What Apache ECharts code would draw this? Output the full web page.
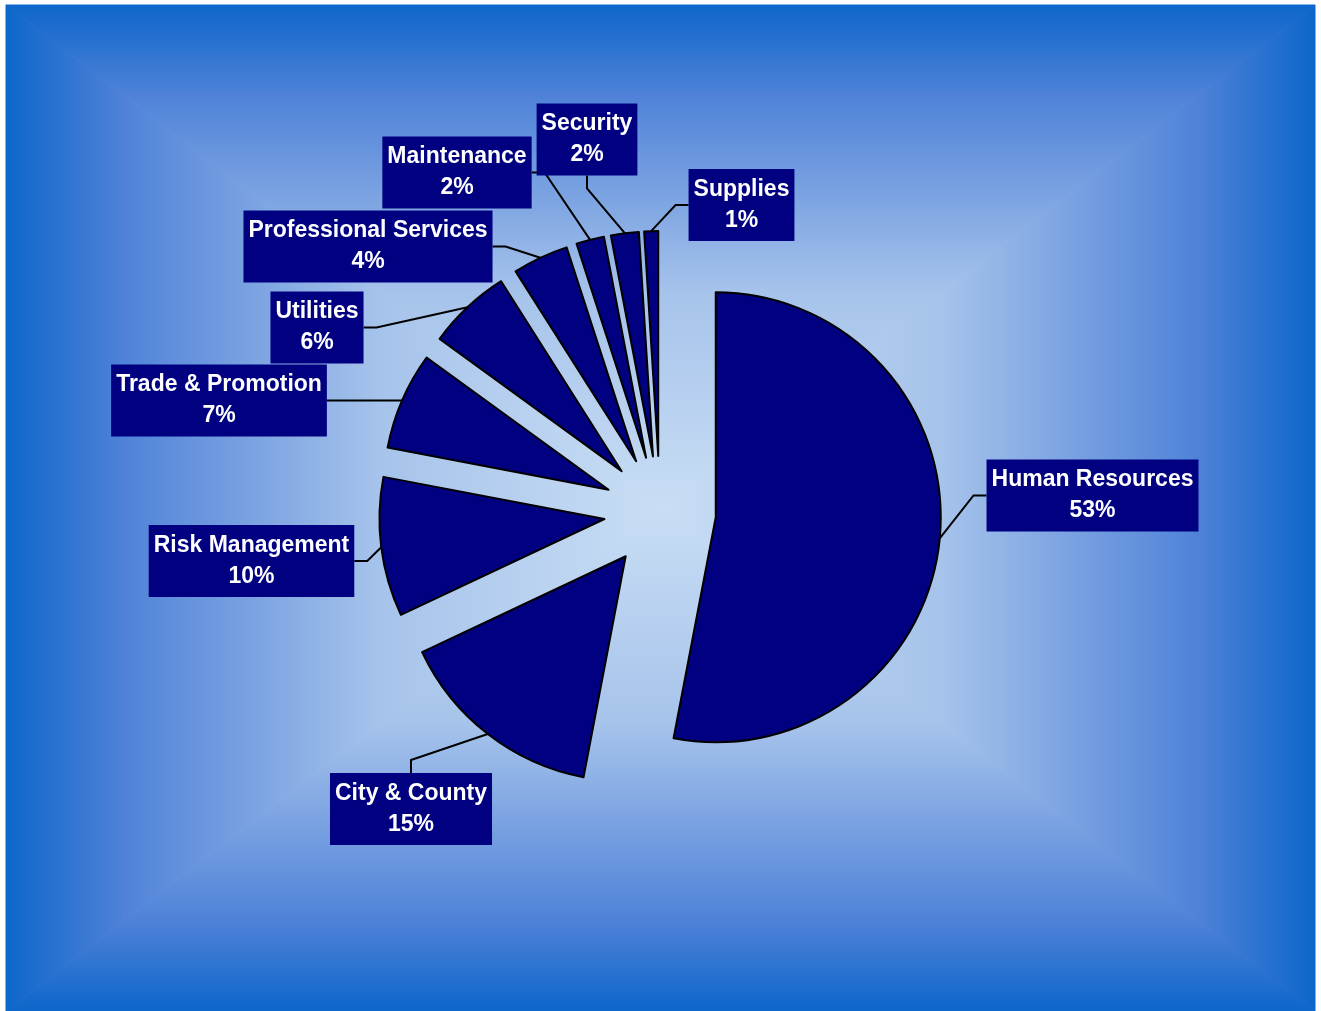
<!DOCTYPE html>
<html>
<head>
<meta charset="utf-8">
<title>Expense breakdown</title>
<script src="https://cdn.jsdelivr.net/npm/echarts@6/dist/echarts.min.js"></script>
<style>
  html, body { margin: 0; padding: 0; background: #ffffff; }
  #chart { width: 1321px; height: 1011px; }
</style>
</head>
<body>
<div id="chart"></div>
<script>
// Categories and their percentage shares, clockwise from 12 o'clock
const categories = [
  'Human Resources', 'City & County', 'Risk Management', 'Trade & Promotion',
  'Utilities', 'Professional Services', 'Maintenance', 'Security', 'Supplies'
];
const shares = [53, 15, 10, 7, 6, 4, 2, 2, 1];

// Where each label box sits (centre) and which edge its leader line enters
const labelPlacement = {
  'Human Resources':       { x: 1092.5, y: 495.5, side: 'left' },
  'City & County':         { x: 411,    y: 809,   side: 'top' },
  'Risk Management':       { x: 251.5,  y: 561,   side: 'right' },
  'Trade & Promotion':     { x: 219,    y: 400.5, side: 'right' },
  'Utilities':             { x: 317,    y: 327.5, side: 'right' },
  'Professional Services': { x: 368,    y: 246.5, side: 'right' },
  'Maintenance':           { x: 457,    y: 172.5, side: 'right' },
  'Security':              { x: 587,    y: 139.5, side: 'bottom' },
  'Supplies':              { x: 741.5,  y: 205,   side: 'left' }
};

const pieCenter = [660, 512];
const pieRadius = 225;
const explode = 56;
const elbowGap = 13;

const NAVY = '#000080';

// Rectangular "from centre" backdrop: four triangles, each shading from its edge to the middle
const frame = { left: 6, top: 5, right: 1315, bottom: 1011 };
const mid = [(frame.left + frame.right) / 2, (frame.top + frame.bottom) / 2];
const shadeStops = [
  { offset: 0,    color: '#0d66ca' },
  { offset: 0.18, color: '#4f82d8' },
  { offset: 0.57, color: '#a6c3eb' },
  { offset: 1,    color: '#c9def4' }
];
function shade(x, y, x2, y2) {
  return { type: 'linear', x: x, y: y, x2: x2, y2: y2, colorStops: shadeStops, global: false };
}
function tri(points, grad) {
  return {
    type: 'polygon', silent: true, z: -10,
    shape: { points: points },
    style: { fill: grad, stroke: grad, lineWidth: 1 }
  };
}
const backdrop = [
  tri([[frame.left, frame.top], [frame.right, frame.top], mid], shade(0, 0, 0, 1)),
  tri([[frame.left, frame.bottom], [frame.right, frame.bottom], mid], shade(0, 1, 0, 0)),
  tri([[frame.left, frame.top], [frame.left, frame.bottom], mid], shade(0, 0, 1, 0)),
  tri([[frame.right, frame.top], [frame.right, frame.bottom], mid], shade(1, 0, 0, 0))
];

// Exploded slices: every slice is "selected" and pushed out by `explode`
const sliceData = categories.map((name, i) => ({ name: name, value: shares[i], selected: true }));
// Same values again for the label layer (an invisible, unexploded pie)
const labelData = categories.map((name, i) => ({ name: name, value: shares[i] }));

function placeLabel(params) {
  const place = labelPlacement[categories[params.dataIndex]];
  const w = params.labelRect.width;
  const h = params.labelRect.height;
  let attach, elbow;
  if (place.side === 'left') {
    attach = [place.x - w / 2, place.y];
    elbow = [attach[0] - elbowGap, place.y];
  } else if (place.side === 'right') {
    attach = [place.x + w / 2, place.y];
    elbow = [attach[0] + elbowGap, place.y];
  } else if (place.side === 'top') {
    attach = [place.x, place.y - h / 2];
    elbow = [place.x, attach[1] - elbowGap];
  } else {
    attach = [place.x, place.y + h / 2];
    elbow = [place.x, attach[1] + elbowGap];
  }
  // leader starts on the slice's arc at mid-angle, moved out with the exploded slice
  const p0 = params.labelLinePoints[0];
  const vx = p0[0] - pieCenter[0];
  const vy = p0[1] - pieCenter[1];
  const len = Math.sqrt(vx * vx + vy * vy) || 1;
  const start = [p0[0] + vx / len * explode, p0[1] + vy / len * explode];
  return {
    x: place.x,
    y: place.y,
    align: 'center',
    verticalAlign: 'middle',
    labelLinePoints: [start, elbow, attach]
  };
}

const chart = echarts.init(document.getElementById('chart'), null, { renderer: 'canvas' });

chart.setOption({
  animation: false,
  backgroundColor: 'transparent',
  graphic: { elements: backdrop },
  series: [
    {
      type: 'pie',
      z: 2,
      center: pieCenter,
      radius: pieRadius,
      startAngle: 90,
      clockwise: true,
      selectedMode: 'multiple',
      selectedOffset: explode,
      data: sliceData,
      itemStyle: { color: NAVY, borderColor: '#000000', borderWidth: 2 },
      select: { itemStyle: { color: NAVY, borderColor: '#000000', borderWidth: 2 } },
      emphasis: { disabled: true },
      label: { show: false },
      labelLine: { show: false }
    },
    {
      type: 'pie',
      z: 3,
      silent: true,
      center: pieCenter,
      radius: pieRadius,
      startAngle: 90,
      clockwise: true,
      avoidLabelOverlap: false,
      percentPrecision: 0,
      data: labelData,
      itemStyle: { color: 'rgba(0,0,0,0)', borderWidth: 0 },
      emphasis: { disabled: true },
      label: {
        show: true,
        position: 'outside',
        formatter: '{b}\n{d}%',
        color: '#ffffff',
        fontFamily: '"Liberation Sans", Arial, sans-serif',
        fontWeight: 'bold',
        fontSize: 23,
        lineHeight: 31,
        align: 'center',
        backgroundColor: NAVY,
        padding: [5, 5, 5, 5]
      },
      labelLine: {
        show: true,
        length: 20,
        length2: 10,
        lineStyle: { color: '#000000', width: 2 }
      },
      labelLayout: placeLabel
    }
  ]
});
</script>
</body>
</html>
